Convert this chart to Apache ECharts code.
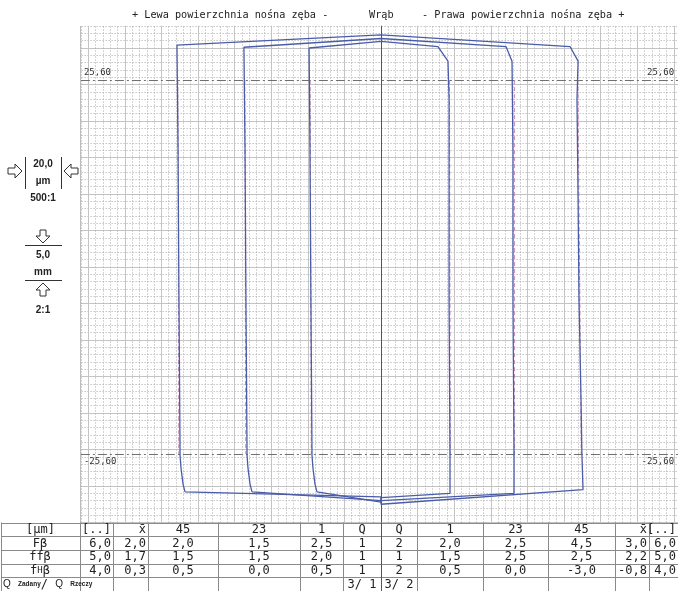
<!DOCTYPE html>
<html>
<head>
<meta charset="utf-8">
<script src="https://cdn.jsdelivr.net/npm/echarts@6/dist/echarts.min.js"></script>
<style>
  html, body { margin: 0; padding: 0; background: #fff; overflow: hidden; }
  #chart { width: 720px; height: 591px; }
</style>
</head>
<body>
<div id="chart"></div>
<script>
// Lead (helix) traces: x = deviation in µm (20 µm per division), y = face width in mm (5 mm per division)
const tooth45Path = [[-107.1,-30.8],[-108.2,-29.7],[-109.3,-27.5],[-109.8,-25.8],[-110.4,-4.5],[-110.9,16.0],[-111.5,30.4],
  [0,31.8],[103.3,30.2],[107.7,28.2],[107.1,22.9],[107.7,9.2],[108.2,-4.5],[109.3,-18.2],[109.8,-25.8],[110.4,-30.5],
  [0,-32.5],[0,-31.5],[-107.1,-30.8]];
const tooth23Path = [[-70.5,-30.8],[-71.6,-29.7],[-72.7,-27.5],[-73.2,-25.8],[-73.8,-4.5],[-74.3,16.0],[-74.9,30.1],
  [0,31.3],[68.3,30.2],[71.6,28.2],[72.1,16.0],[72.1,-4.5],[72.7,-25.8],[72.7,-31.0],
  [0,-32.0],[0,-31.8],[-70.5,-30.8]];
const tooth1Path = [[-35.0,-30.8],[-36.1,-29.7],[-37.2,-27.5],[-37.7,-25.8],[-38.3,-4.5],[-38.8,16.0],[-39.3,30.0],
  [0,30.9],[31.1,30.2],[36.6,28.2],[37.2,22.9],[37.2,-4.5],[37.7,-25.8],[37.7,-31.0],
  [0,-31.6],[0,-32.2],[-35.0,-30.8]];

// Nominal helix lines over the evaluation range
const nominalTopX    = [-111.0, -74.4, -38.7, 37.4, 73.0, 107.6];
const nominalBottomX = [-110.5, -73.9, -38.1, 37.9, 73.0, 109.4];
const evalLimit = 25.6;
const evalLabels = ['25,60', '-25,60'];

// Titles
const titleLeft = '+ Lewa powierzchnia nośna zęba -';
const titleMid = 'Wrąb';
const titleRight = '- Prawa powierzchnia nośna zęba +';

// Result table
const tableHeader = ['[µm]', '[..]', 'x\u0304', '45', '23', '1', 'Q', 'Q', '1', '23', '45', 'x\u0304', '[..]'];
const rowLabels = ['Fβ', 'ffβ', '{n|f}{h|H}{n|β}', '{q|Q} {s|Zadany}/ {q|Q} {s|Rzeczy}'];
const rowFb  = ['6,0','2,0','2,0','1,5','2,5','1','2','2,0','2,5','4,5','3,0','6,0'];
const rowFfb = ['5,0','1,7','1,5','1,5','2,0','1','1','1,5','2,5','2,5','2,2','5,0'];
const rowFhb = ['4,0','0,3','0,5','0,0','0,5','1','2','0,5','0,0','-3,0','-0,8','4,0'];
const rowQ   = ['','','','','','3/ 1','3/ 2','','','','',''];

// Scale legend texts
const scaleTexts = ['20,0', 'µm', '500:1', '5,0', 'mm', '2:1'];

// ---- layout ----
const CX = 381, CY = 267, PX_UM = 1.83, PX_MM = 7.3;
const X_MIN = -180, X_MAX = 180, Y_MIN = -35, Y_MAX = 35;
const colEdges = [1, 80, 113, 148, 218, 300, 343, 381, 417, 483, 548, 615, 649, 678];
const rowEdges = [522.5, 536.2, 549.9, 563.6, 577.3, 591];
const rightAlignedCols = [1, 2, 11, 12];

const BLUE = '#4a5ca8';
const MONO = '"DejaVu Sans Mono", "Liberation Mono", monospace';
const SANS = '"Liberation Sans", Arial, sans-serif';

const chart = echarts.init(document.getElementById('chart'), null, { renderer: 'canvas' });

const traceSeries = [tooth45Path, tooth23Path, tooth1Path].map(path => ({
  type: 'line', data: path, showSymbol: false, symbol: 'none', z: 6,
  lineStyle: { color: BLUE, width: 1.3 }, animation: false, silent: true
}));

const nominalSeries = nominalTopX.map((x, i) => ({
  type: 'line', data: [[x, evalLimit], [nominalBottomX[i], -evalLimit]], showSymbol: false, symbol: 'none', z: 5,
  lineStyle: { color: '#c98ab8', width: 1, type: [4, 3] }, animation: false, silent: true
}));

const refLabel = (pos, text) => ({ show: true, position: pos, formatter: text, distance: 3,
  color: '#333', fontFamily: MONO, fontSize: 9 });
const dashDot = { color: '#707070', width: 1, type: [9, 3, 2, 3] };
const hiddenLine = { color: 'rgba(0,0,0,0)', width: 1 };

const markSeries = {
  type: 'line', data: [], animation: false, silent: true,
  markLine: {
    symbol: ['none', 'none'], silent: true, animation: false,
    data: [
      [{ coord: [-164, evalLimit], label: refLabel('insideStartTop', evalLabels[0]), lineStyle: dashDot }, { coord: [X_MAX, evalLimit] }],
      [{ coord: [-164, evalLimit], label: refLabel('insideEndTop', evalLabels[0]), lineStyle: hiddenLine }, { coord: [161.8, evalLimit] }],
      [{ coord: [-164, -evalLimit], label: refLabel('insideStartBottom', evalLabels[1]), lineStyle: dashDot }, { coord: [X_MAX, -evalLimit] }],
      [{ coord: [-164, -evalLimit], label: refLabel('insideEndBottom', evalLabels[1]), lineStyle: hiddenLine }, { coord: [161.8, -evalLimit] }],
      [{ coord: [0, Y_MIN], label: { show: false }, lineStyle: { color: '#555', width: 1, type: 'solid' } }, { coord: [0, Y_MAX] }]
    ]
  }
};

// ---- graphic elements: covers, titles, scale legend, table ----
const g = [];
const Z = 100;
g.push({ type: 'rect', shape: { x: 0, y: 0, width: 80.3, height: 523 }, style: { fill: '#fff' }, z: 90 });
g.push({ type: 'rect', shape: { x: 0, y: 0, width: 720, height: 25.8 }, style: { fill: '#fff' }, z: 90 });
g.push({ type: 'line', shape: { x1: 80.5, y1: 26, x2: 80.5, y2: 523 }, style: { stroke: '#bdbdbd', lineWidth: 1 }, z: Z });

const titleStyle = { fill: '#222', font: '10.2px ' + MONO, textVerticalAlign: 'middle' };
g.push({ type: 'text', x: 132, y: 15, style: Object.assign({ text: titleLeft, textAlign: 'left' }, titleStyle), z: Z });
g.push({ type: 'text', x: 369, y: 15, style: Object.assign({ text: titleMid, textAlign: 'left' }, titleStyle), z: Z });
g.push({ type: 'text', x: 422, y: 15, style: Object.assign({ text: titleRight, textAlign: 'left' }, titleStyle), z: Z });

// scale legend
const arrowStyle = { fill: '#fff', stroke: '#333', lineWidth: 1 };
g.push({ type: 'polygon', shape: { points: [[8,168],[15,168],[15,164],[22,171],[15,178],[15,174],[8,174]] }, style: arrowStyle, z: Z });
g.push({ type: 'polygon', shape: { points: [[78,168],[71,168],[71,164],[64,171],[71,178],[71,174],[78,174]] }, style: arrowStyle, z: Z });
g.push({ type: 'line', shape: { x1: 25.5, y1: 157, x2: 25.5, y2: 189 }, style: { stroke: '#333', lineWidth: 1 }, z: Z });
g.push({ type: 'line', shape: { x1: 61.5, y1: 157, x2: 61.5, y2: 189 }, style: { stroke: '#333', lineWidth: 1 }, z: Z });
g.push({ type: 'polygon', shape: { points: [[40,230],[46,230],[46,236],[50,236],[43,243],[36,236],[40,236]] }, style: arrowStyle, z: Z });
g.push({ type: 'line', shape: { x1: 25, y1: 245.5, x2: 62, y2: 245.5 }, style: { stroke: '#333', lineWidth: 1 }, z: Z });
g.push({ type: 'line', shape: { x1: 25, y1: 280.5, x2: 62, y2: 280.5 }, style: { stroke: '#333', lineWidth: 1 }, z: Z });
g.push({ type: 'polygon', shape: { points: [[43,283],[50,290],[46,290],[46,296],[40,296],[40,290],[36,290]] }, style: arrowStyle, z: Z });
const scaleY = [164, 181, 198, 255, 272, 310];
scaleTexts.forEach((t, i) => g.push({ type: 'text', x: 43, y: scaleY[i],
  style: { text: t, fill: '#222', font: 'bold 10px ' + SANS, textAlign: 'center', textVerticalAlign: 'middle' }, z: Z }));

// table grid
rowEdges.forEach(y => g.push({ type: 'line', shape: { x1: 1, y1: Math.round(y) + 0.5, x2: 720, y2: Math.round(y) + 0.5 },
  style: { stroke: '#8a8a8a', lineWidth: 1 }, z: Z }));
colEdges.forEach(x => g.push({ type: 'line', shape: { x1: Math.round(x) + 0.5, y1: rowEdges[0], x2: Math.round(x) + 0.5, y2: 591 },
  style: { stroke: x === CX ? '#555' : '#8a8a8a', lineWidth: 1 }, z: Z }));

function cell(text, col, row) {
  const yMid = (rowEdges[row] + rowEdges[row + 1]) / 2 + 0.5;
  const right = rightAlignedCols.indexOf(col) >= 0;
  const x = right ? colEdges[col + 1] - 2 : (colEdges[col] + colEdges[col + 1]) / 2;
  g.push({ type: 'text', x: x, y: yMid, z: Z,
    style: { text: text, fill: '#222', font: '12px ' + MONO, textAlign: right ? 'right' : 'center', textVerticalAlign: 'middle' } });
}
tableHeader.forEach((t, c) => cell(t, c, 0));
[rowFb, rowFfb, rowFhb, rowQ].forEach((row, r) => {
  row.forEach((t, c) => { if (t) cell(t, c + 1, r + 1); });
});
rowLabels.forEach((t, r) => {
  const yMid = (rowEdges[r + 1] + rowEdges[r + 2]) / 2 + 0.5;
  const isQ = r === 3;
  g.push({ type: 'text', x: isQ ? 3 : 40, y: yMid, z: Z,
    style: {
      text: t, fill: '#222', font: '12px ' + MONO, textAlign: isQ ? 'left' : 'center', textVerticalAlign: 'middle',
      rich: {
        n: { fontFamily: MONO, fontSize: 12, fill: '#222' },
        h: { fontFamily: MONO, fontSize: 9, fill: '#222' },
        q: { fontFamily: SANS, fontSize: 10, fill: '#222' },
        s: { fontFamily: SANS, fontSize: 6.5, fill: '#222', fontWeight: 'bold' }
      }
    } });
});

chart.setOption({
  animation: false,
  backgroundColor: '#fff',
  grid: { left: CX + X_MIN * PX_UM, width: (X_MAX - X_MIN) * PX_UM, top: CY - Y_MAX * PX_MM, height: (Y_MAX - Y_MIN) * PX_MM, containLabel: false },
  xAxis: {
    type: 'value', min: X_MIN, max: X_MAX, interval: 20,
    axisLine: { show: false }, axisTick: { show: false }, axisLabel: { show: false },
    splitLine: { show: true, lineStyle: { color: '#c4c4c4', width: 1 } },
    minorTick: { show: false, splitNumber: 5 },
    minorSplitLine: { show: true, lineStyle: { color: '#a8a8a8', width: 1, type: [1, 2] } }
  },
  yAxis: {
    type: 'value', min: Y_MIN, max: Y_MAX, interval: 5,
    axisLine: { show: false }, axisTick: { show: false }, axisLabel: { show: false },
    splitLine: { show: true, lineStyle: { color: '#c4c4c4', width: 1 } },
    minorTick: { show: false, splitNumber: 5 },
    minorSplitLine: { show: true, lineStyle: { color: '#a8a8a8', width: 1, type: [1, 2] } }
  },
  series: [markSeries].concat(nominalSeries, traceSeries),
  graphic: { elements: g }
});
</script>
</body>
</html>
